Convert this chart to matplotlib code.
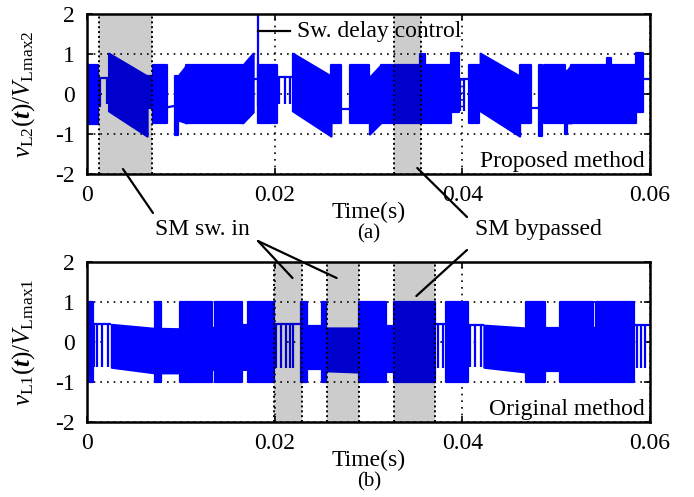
import numpy as np
import matplotlib
matplotlib.use('Agg')
import matplotlib.pyplot as plt

plt.rcParams['font.family'] = 'Liberation Serif'
plt.rcParams['mathtext.fontset'] = 'custom'
plt.rcParams['mathtext.rm'] = 'Liberation Serif'
plt.rcParams['mathtext.it'] = 'Liberation Serif:italic'
plt.rcParams['mathtext.bf'] = 'Liberation Serif:bold'
plt.rcParams['mathtext.bfit'] = 'Liberation Serif:bold:italic'
plt.rcParams['axes.unicode_minus'] = False

# envelope of the switched voltage, one row per interval:
# t start, t end, top at start, top at end, bottom at start, bottom at end
prop_segs = np.array([
    [0.0000, 0.0012, 0.72, 0.72, -0.74, -0.74],
    [0.0012, 0.0023, 0.40, 0.40, 0.40, 0.40],
    [0.0023, 0.0064, 1.02, 0.45, -0.42, -1.05],
    [0.0064, 0.0070, 0.45, 0.45, -0.35, -0.35],
    [0.0070, 0.0085, 0.72, 0.72, -0.72, -0.72],
    [0.0085, 0.0094, -0.32, -0.28, -0.32, -0.28],
    [0.0094, 0.0097, 0.45, 0.45, -1.02, -1.02],
    [0.0097, 0.0106, 0.45, 0.72, -0.65, -0.72],
    [0.0106, 0.0166, 0.72, 0.72, -0.72, -0.72],
    [0.0166, 0.0177, 0.72, 1.02, -0.72, -0.45],
    [0.0177, 0.0182, 0.38, 0.38, 0.38, 0.38],
    [0.0182, 0.0202, 0.72, 0.72, -0.72, -0.72],
    [0.0202, 0.0219, 0.42, 0.42, 0.42, 0.42],
    [0.0219, 0.0260, 1.02, 0.45, -0.42, -1.05],
    [0.0260, 0.0271, 0.72, 0.72, -0.72, -0.72],
    [0.0271, 0.0280, -0.38, -0.38, -0.38, -0.38],
    [0.0280, 0.0301, 0.72, 0.72, -0.72, -0.72],
    [0.0301, 0.0313, 0.42, 0.72, -1.00, -0.72],
    [0.0313, 0.0355, 0.72, 0.72, -0.72, -0.72],
    [0.0355, 0.0360, 1.00, 1.00, -0.72, -0.72],
    [0.0360, 0.0388, 0.72, 0.72, -0.72, -0.72],
    [0.0388, 0.0396, 1.02, 1.02, -0.45, -0.45],
    [0.0396, 0.0407, 0.37, 0.37, 0.37, 0.37],
    [0.0407, 0.0418, 0.72, 0.72, -0.72, -0.72],
    [0.0419, 0.0461, 1.02, 0.45, -0.42, -1.05],
    [0.0461, 0.0473, 0.72, 0.72, -0.72, -0.72],
    [0.0473, 0.0482, -0.35, -0.35, -0.35, -0.35],
    [0.0482, 0.0485, 0.72, 0.72, -1.05, -1.05],
    [0.0487, 0.0509, 0.72, 0.72, -0.72, -0.72],
    [0.0509, 0.0512, 0.57, 0.57, -1.00, -1.00],
    [0.0512, 0.0516, 0.60, 0.72, -0.72, -0.72],
    [0.0516, 0.0554, 0.72, 0.72, -0.72, -0.72],
    [0.0554, 0.0558, 0.90, 0.90, -0.72, -0.72],
    [0.0558, 0.0585, 0.72, 0.72, -0.72, -0.72],
    [0.0585, 0.0593, 1.02, 1.02, -0.45, -0.45],
    [0.0593, 0.0600, 0.37, 0.37, 0.37, 0.37],
])
# narrow pulses: time, top, bottom
prop_pulse_t = [0.0013, 0.0014, 0.0021, 0.0182, 0.0205, 0.0211, 0.0216, 0.0397, 0.0402]
prop_pulse_hi = [0.40, 0.40, 0.40, 2.00, 0.42, 0.42, 0.42, 0.37, 0.37]
prop_pulse_lo = [-0.32, -0.32, -0.25, -0.30, -0.26, -0.26, -0.26, -0.42, -0.42]

orig_segs = np.array([
    [0.0000, 0.0006, 1.00, 1.00, -1.00, -1.00],
    [0.0006, 0.0026, 0.44, 0.44, 0.44, 0.44],
    [0.0026, 0.0072, 0.44, 0.34, -0.63, -0.77],
    [0.0072, 0.0079, 1.00, 1.00, -1.00, -1.00],
    [0.0079, 0.0099, 0.34, 0.33, -0.77, -0.77],
    [0.0099, 0.0133, 1.00, 1.00, -1.00, -1.00],
    [0.0133, 0.0136, 0.35, 0.35, -0.70, -0.70],
    [0.0136, 0.0165, 1.00, 1.00, -1.00, -1.00],
    [0.0165, 0.0172, 0.42, 0.42, 0.42, 0.42],
    [0.0172, 0.0199, 1.00, 1.00, -1.00, -1.00],
    [0.0199, 0.0228, 0.44, 0.44, 0.44, 0.44],
    [0.0228, 0.0234, 1.00, 1.00, -1.00, -1.00],
    [0.0234, 0.0250, 0.40, 0.40, -0.68, -0.68],
    [0.0250, 0.0255, 1.00, 1.00, -1.00, -1.00],
    [0.0255, 0.0290, 0.35, 0.35, -0.72, -0.75],
    [0.0290, 0.0319, 1.00, 1.00, -1.00, -1.00],
    [0.0319, 0.0327, 0.40, 0.40, -0.75, -0.75],
    [0.0327, 0.0371, 1.00, 1.00, -1.00, -1.00],
    [0.0371, 0.0383, 0.44, 0.44, 0.44, 0.44],
    [0.0383, 0.0406, 1.00, 1.00, -1.00, -1.00],
    [0.0406, 0.0423, 0.42, 0.42, 0.42, 0.42],
    [0.0423, 0.0468, 0.42, 0.35, -0.63, -0.75],
    [0.0468, 0.0488, 1.00, 1.00, -1.00, -1.00],
    [0.0488, 0.0504, 0.35, 0.35, -0.72, -0.72],
    [0.0504, 0.0539, 1.00, 1.00, -1.00, -1.00],
    [0.0539, 0.0542, 0.35, 0.35, -1.00, -1.00],
    [0.0542, 0.0583, 1.00, 1.00, -1.00, -1.00],
    [0.0583, 0.0600, 0.42, 0.42, 0.42, 0.42],
])
orig_pulse_t = [0.0007, 0.0011, 0.0016, 0.0022, 0.0167, 0.0169, 0.0201, 0.0207, 0.0212, 0.0216,
                0.0220, 0.0374, 0.0379, 0.0408, 0.0413, 0.0420, 0.0586, 0.0590, 0.0595]
orig_pulse_hi = [0.44, 0.44, 0.44, 0.44, 0.42, 0.42, 0.44, 0.44, 0.44, 0.44,
                 0.44, 0.44, 0.44, 0.42, 0.42, 0.42, 0.42, 0.42, 0.42]
orig_pulse_lo = [-0.63, -0.63, -0.63, -0.63, -0.72, -0.72, -0.65, -0.65, -0.65, -0.65,
                 -0.65, -0.65, -0.65, -0.63, -0.63, -0.63, -0.65, -0.65, -0.65]

# shaded intervals
prop_spans = [(0.0013, 0.0069), (0.0327, 0.0356)]
orig_spans = [(0.0199, 0.0229), (0.0256, 0.0290), (0.0327, 0.0371)]

xticks = [0, 0.02, 0.04, 0.06]
xticklabels = ['0', '0.02', '0.04', '0.06']
yticks = [-2, -1, 0, 1, 2]
yticklabels = ['-2', '-1', '0', '1', '2']

blue = '#0000FF'
W, H = 694, 497
fig = plt.figure(figsize=(W / 100, H / 100), dpi=100)


def make_axes(top_px):
    ax = fig.add_axes([87 / W, 1 - (top_px + 160) / H, 563 / W, 160 / H])
    ax.set_xlim(0, 0.06)
    ax.set_ylim(-2, 2)
    ax.set_xticks(xticks)
    ax.set_xticklabels(xticklabels)
    ax.set_yticks(yticks)
    ax.set_yticklabels(yticklabels)
    ax.tick_params(direction='in', top=True, right=True, labelsize=17, length=4, width=1.2)
    ax.tick_params(axis='x', pad=8)
    ax.tick_params(axis='y', pad=9)
    ax.grid(True, color='k', linestyle=(0, (1, 3)), linewidth=1.2)
    ax.set_axisbelow(True)
    for s in ax.spines.values():
        s.set_linewidth(1.8)
    ax.set_xlabel('Time(s)', fontsize=17, labelpad=-3)
    return ax


def draw_wave(ax, segs, pt, phi, plo, spans):
    for t0, t1, h0, h1, l0, l1 in segs:
        ax.fill_between([t0, t1], [l0, l1], [h0, h1], facecolor=blue, edgecolor=blue,
                        linewidth=1.6, zorder=2)
    ax.vlines(pt, plo, phi, color=blue, linewidth=1.6, zorder=2)
    for a, b in spans:
        ax.axvspan(a, b, facecolor='k', alpha=0.2, linewidth=0, zorder=3)
        for x in (a, b):
            ax.axvline(x, color='k', linestyle=(0, (1, 1.5)), linewidth=1.4, zorder=4)


ax1 = make_axes(14)
draw_wave(ax1, prop_segs, prop_pulse_t, prop_pulse_hi, prop_pulse_lo, prop_spans)
ax1.set_ylabel(r'$v_{\mathrm{L2}}(\mathbfit{t})/V_{\mathrm{Lmax2}}$', fontsize=18)
ax1.yaxis.set_label_coords(-0.088, 0.5)
ax1.text(0.02234, 1.575, 'Sw. delay control', fontsize=17, ha='left', va='center', zorder=5)
ax1.plot([0.0182, 0.0216], [1.575, 1.575], color='k', linewidth=1.6, zorder=5)
ax1.text(0.0594, -1.675, 'Proposed method', fontsize=17, ha='right', va='center', zorder=5)

ax2 = make_axes(262)
draw_wave(ax2, orig_segs, orig_pulse_t, orig_pulse_hi, orig_pulse_lo, orig_spans)
ax2.set_ylabel(r'$v_{\mathrm{L1}}(\mathbfit{t})/V_{\mathrm{Lmax1}}$', fontsize=18)
ax2.yaxis.set_label_coords(-0.088, 0.5)
ax2.text(0.0594, -1.675, 'Original method', fontsize=17, ha='right', va='center', zorder=5)

fig.text(369 / W, 1 - 234 / H, '(a)', fontsize=15, ha='center', va='center')
fig.text(369 / W, 1 - 482 / H, '(b)', fontsize=15, ha='center', va='center')
fig.text(202 / W, 1 - 230 / H, 'SM sw. in', fontsize=17, ha='center', va='center')
fig.text(538 / W, 1 - 230 / H, 'SM bypassed', fontsize=17, ha='center', va='center')

line_kw = dict(arrowstyle='-', color='k', lw=1.6, shrinkA=0, shrinkB=0)
ax1.annotate('', xy=(0.00383, -1.875), xytext=(153, H - 213), textcoords='figure pixels',
             arrowprops=line_kw, annotation_clip=False)
ax2.annotate('', xy=(0.0219, 1.6), xytext=(258, H - 241), textcoords='figure pixels',
             arrowprops=line_kw, annotation_clip=False)
ax2.annotate('', xy=(0.0266, 1.6), xytext=(258, H - 241), textcoords='figure pixels',
             arrowprops=line_kw, annotation_clip=False)
ax1.annotate('', xy=(0.0352, -1.85), xytext=(467, H - 217), textcoords='figure pixels',
             arrowprops=line_kw, annotation_clip=False)
ax2.annotate('', xy=(0.0351, 1.15), xytext=(467, H - 250), textcoords='figure pixels',
             arrowprops=line_kw, annotation_clip=False)

fig.savefig('out.png', dpi=100)
